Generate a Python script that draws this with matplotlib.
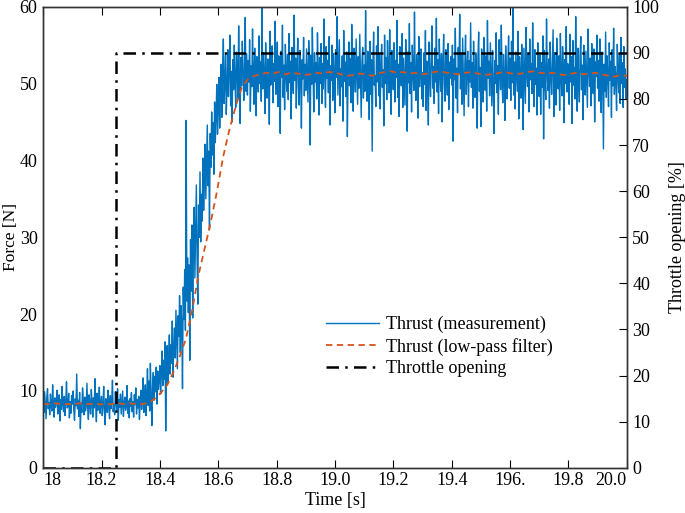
import matplotlib.pyplot as plt
import numpy as np

plt.rcParams['font.family'] = ['Liberation Serif', 'DejaVu Serif']
plt.rcParams['font.size'] = 13

# thrust measurement [N], 2.5 ms sampling from 18.0 s to 20.0 s
thrust_meas = [
    8.6, 7.2, 9.9, 8.1, 6.4, 9.2, 10.3, 7.7, 8.5, 6.9, 9.6, 8.0, 7.4, 10.8, 8.3, 6.6, 9.1, 7.9, 8.8, 10.1,
    7.0, 8.4, 9.5, 6.1, 8.9, 7.6, 10.6, 8.2, 7.3, 9.3, 6.8, 8.7, 11.2, 7.8, 8.0, 9.7, 6.5, 8.6, 7.1, 9.4,
    8.3, 10.0, 7.5, 6.2, 9.0, 8.1, 12.2, 7.7, 8.8, 6.7, 9.8, 5.1, 8.5, 7.2, 10.4, 8.9, 6.9, 9.2, 7.4, 8.0,
    11.0, 7.9, 6.3, 9.5, 8.4, 7.0, 10.2, 8.6, 6.6, 9.1, 7.8, 11.6, 8.2, 6.0, 9.7, 7.5, 8.7, 10.5, 7.1, 8.3,
    9.3, 6.8, 8.1, 10.6, 7.4, 5.6, 9.0, 8.5, 7.2, 10.1, 8.0, 6.4, 9.4, 7.7, 8.8, 11.4, 7.3, 8.2, 6.9, 9.9,
    8.4, 7.6, 10.3, 6.2, 8.9, 7.9, 9.6, 7.0, 8.6, 10.0, 6.7, 8.3, 9.2, 7.5, 8.1, 10.7, 7.1, 8.7, 6.5, 9.0,
    8.0, 9.8, 7.3, 8.6, 6.6, 9.5, 8.2, 10.4, 7.0, 8.9, 7.8, 9.3, 6.3, 8.5, 10.1, 7.6, 9.0, 11.7, 7.2, 8.4,
    10.8, 6.8, 9.6, 12.9, 8.1, 11.3, 7.4, 13.6, 9.2, 5.5, 10.7, 12.4, 8.8, 11.9, 9.9, 13.1, 8.3, 12.6, 10.2, 11.4,
    13.3, 9.6, 12.1, 15.2, 10.7, 14.0, 11.5, 16.4, 4.8, 12.8, 15.9, 11.0, 14.7, 17.3, 12.2, 16.0, 13.6, 19.1, 11.8, 15.4,
    18.2, 14.3, 20.5, 16.7, 12.9, 19.8, 17.1, 22.4, 15.0, 21.1, 18.6, 10.3, 23.5, 19.3, 25.8, 17.9, 45.2, 21.7, 27.3, 20.2,
    26.4, 14.0, 29.7, 23.0, 31.6, 19.5, 28.2, 33.9, 24.7, 30.5, 36.8, 27.1, 21.3, 34.2, 30.0, 38.5, 29.4, 35.6, 32.1, 40.3,
    33.5, 37.4, 42.1, 35.0, 39.8, 44.6, 36.7, 41.2, 31.0, 43.5, 39.1, 46.3, 40.7, 44.9, 38.2, 47.6, 42.3, 45.8, 49.9, 43.4,
    46.7, 50.8, 44.2, 48.9, 52.5, 45.6, 51.3, 55.8, 47.4, 50.1, 53.7, 46.0, 49.5, 54.4, 48.3, 52.0, 56.3, 47.1, 51.6, 45.0,
    53.1, 49.2, 55.0, 50.4, 46.9, 54.1, 51.8, 48.0, 57.5, 50.6, 44.8, 53.4, 49.7, 55.5, 52.2, 47.8, 51.1, 58.6, 49.0, 53.9,
    48.5, 53.0, 50.2, 55.7, 46.4, 52.3, 49.6, 57.1, 51.0, 47.3, 54.6, 50.7, 45.8, 53.5, 51.9, 48.9, 56.2, 50.0, 52.8, 47.7,
    60.0, 49.3, 54.0, 51.4, 46.1, 55.3, 50.5, 48.1, 53.2, 52.0, 44.7, 56.8, 49.8, 51.7, 54.9, 47.5, 52.6, 50.3, 58.1, 48.6,
    51.2, 55.4, 47.0, 53.6, 49.4, 43.5, 54.2, 50.8, 57.6, 48.2, 52.4, 46.6, 55.1, 51.5, 49.0, 53.8, 47.9, 56.5, 50.1, 52.9,
    45.4, 54.7, 51.0, 48.7, 58.9, 50.4, 53.3, 46.8, 52.1, 55.9, 49.5, 47.2, 54.3, 51.6, 44.2, 53.1, 50.6, 56.0, 48.4, 52.5,
    49.1, 54.5, 50.9, 47.6, 55.6, 52.2, 42.0, 53.7, 49.9, 57.3, 51.3, 46.3, 54.0, 50.2, 52.7, 48.0, 56.6, 51.8, 45.9, 53.4,
    50.0, 55.2, 47.4, 52.6, 49.3, 58.4, 51.1, 46.9, 54.8, 50.7, 53.0, 48.8, 56.1, 44.6, 52.3, 50.4, 55.0, 47.8, 53.9, 51.4,
    46.2, 54.4, 50.8, 58.7, 48.5, 52.1, 55.7, 47.1, 51.9, 49.6, 53.6, 45.1, 56.9, 50.3, 52.8, 48.3, 54.1, 43.1, 51.5, 55.4,
    49.7, 53.2, 47.5, 57.7, 50.9, 46.4, 54.6, 52.0, 48.9, 55.8, 51.2, 47.3, 53.5, 49.4, 56.4, 50.6, 45.6, 52.9, 54.7, 48.1,
    52.4, 49.0, 59.5, 50.5, 47.7, 54.2, 51.7, 45.3, 55.5, 48.6, 53.1, 41.2, 52.6, 56.7, 49.8, 51.0, 47.0, 54.9, 50.2, 57.4,
    48.4, 53.7, 46.7, 52.2, 55.1, 49.5, 51.8, 44.5, 56.3, 50.0, 53.4, 47.9, 55.6, 51.3, 48.8, 57.0, 50.7, 46.0, 54.3, 52.0,
    49.2, 55.3, 47.6, 53.0, 50.8, 58.2, 48.2, 52.5, 45.7, 54.8, 51.1, 49.7, 56.5, 46.9, 53.3, 50.4, 47.2, 55.7, 52.1, 43.8,
    54.1, 50.1, 57.8, 48.7, 52.7, 46.3, 55.0, 51.6, 49.1, 59.3, 50.3, 47.8, 53.8, 51.9, 45.5, 56.1, 49.6, 52.4, 54.5, 48.0,
    51.4, 47.0, 54.0, 49.9, 56.9, 46.5, 52.9, 50.6, 44.6, 55.4, 51.0, 48.3, 53.6, 57.5, 49.4, 52.2, 47.4, 54.6, 50.2, 58.5,
    48.9, 53.1, 46.1, 55.8, 51.7, 49.0, 53.9, 45.0, 52.6, 56.4, 50.0, 47.7, 54.4, 51.2, 48.5, 55.2, 46.6, 52.8, 50.7, 53.5,
    49.8, 55.0, 42.5, 53.2, 50.5, 57.2, 48.1, 52.0, 46.2, 54.7, 51.3, 59.0, 49.3, 53.7, 47.3, 55.9, 50.9, 45.8, 52.4, 56.3,
    48.6, 51.8, 54.2, 47.0, 53.0, 50.2, 57.9, 49.5, 52.7, 46.8, 55.5, 51.0, 48.2, 54.0, 50.6, 44.2, 53.4, 56.7, 49.0, 52.1,
    44.4, 54.5, 50.3, 47.6, 56.0, 51.5, 49.1, 53.6, 46.4, 58.2, 50.7, 52.9, 48.4, 55.3, 51.1, 47.1, 54.3, 49.7, 43.5, 53.0,
    50.0, 56.6, 48.8, 52.3, 46.0, 55.7, 51.8, 49.2, 57.6, 50.4, 47.5, 53.8, 51.2, 45.2, 54.9, 50.8, 48.0, 52.5, 56.2, 49.4,
    53.3, 47.8, 55.5, 50.1, 59.8, 48.5, 52.8, 46.7, 54.1, 51.6, 49.0, 56.8, 45.4, 53.5, 50.4, 48.1, 55.1, 52.2, 44.0, 54.6,
    50.9, 47.4, 57.3, 51.3, 49.6, 53.9, 46.3, 55.8, 50.5, 52.6, 48.7, 57.9, 51.0, 47.0, 54.4, 49.9, 52.0, 45.9, 55.3, 50.2,
    48.3, 53.7, 46.0, 52.7, 49.5, 56.2, 42.8, 54.3, 50.6, 47.9, 58.4, 51.4, 49.1, 53.2, 46.8, 55.4, 51.1, 48.6, 52.9, 57.0,
    45.7, 54.0, 50.3, 47.2, 55.9, 51.7, 49.3, 53.6, 46.5, 56.5, 50.8, 48.4, 54.8, 52.3, 44.9, 53.1, 50.0, 57.4, 48.9, 52.6,
    51.5, 47.3, 56.4, 50.2, 53.5, 44.8, 55.6, 49.8, 52.1, 48.0, 58.7, 51.2, 46.4, 54.6, 50.5, 47.6, 53.8, 56.1, 49.2, 52.4,
    45.3, 55.0, 51.0, 48.5, 54.2, 50.7, 46.9, 57.1, 52.0, 49.6, 53.3, 47.1, 55.2, 50.3, 48.7, 54.5, 45.0, 52.8, 50.9, 56.3,
    49.4, 53.0, 47.7, 55.8, 50.1, 46.2, 54.1, 51.8, 41.5, 52.5, 49.0, 56.7, 48.2, 53.6, 51.1, 47.0, 55.3, 50.4, 52.9, 45.6,
    54.4, 49.7, 57.2, 48.6, 52.2, 50.6, 46.5, 55.1, 51.4, 48.8, 53.9, 47.4, 56.0, 50.0, 52.7, 46.9, 54.8, 49.5, 51.9, 48.0,
    50.5,
]

# low-pass filtered thrust [N], 20 ms steps from 18.0 s to 20.0 s
thrust_filt = [
    8.3, 8.3, 8.4, 8.3, 8.3, 8.3, 8.4, 8.3, 8.3, 8.3, 8.2, 8.3, 8.4, 8.3, 8.4, 8.3, 8.3,
    8.5, 9.0, 9.8, 10.8, 12.5, 14.5, 16.8, 20.5, 25.0, 28.5, 32.0, 36.0, 40.5, 44.0, 47.0, 49.5, 50.6, 51.0, 51.2,
    51.4, 51.3, 51.5, 51.2, 51.4, 51.3, 51.1, 51.2, 51.4, 51.3, 51.5, 51.4, 51.2, 51.0, 51.1, 51.3, 51.2, 51.0,
    51.3, 51.5, 51.6, 51.4, 51.5, 51.3, 51.4, 51.2, 51.3, 51.5, 51.6, 51.4, 51.3, 51.2, 51.4, 51.5, 51.3, 51.1,
    51.2, 51.3, 51.5, 51.4, 51.2, 51.3, 51.5, 51.6, 51.4, 51.3, 51.4, 51.2, 51.1, 51.3, 51.4, 51.2, 51.3, 51.4,
    51.2, 51.0, 50.9, 51.1, 51.0,
]

# throttle command [%]
throttle_t = [18.0, 18.25, 18.25, 20.0]
throttle_pct = [0, 0, 90, 90]

xtick_vals = [18.0, 18.2, 18.4, 18.6, 18.8, 19.0, 19.2, 19.4, 19.6, 19.8, 20.0]
xtick_labels = ['18', '18.2', '18.4', '18.6', '18.8', '19.0', '19.2', '19.4', '196.', '19.8', '20.0']

t_meas = np.linspace(18.0, 20.0, len(thrust_meas))
t_filt = np.linspace(18.0, 20.0, len(thrust_filt))

fig = plt.figure(figsize=(6.85, 5.13), dpi=100)
ax = fig.add_axes([0.063, 0.088, 0.852, 0.899])
ax2 = ax.twinx()

l1, = ax.plot(t_meas, thrust_meas, color='#0072BD', lw=1.0, label='Thrust (measurement)')
l2, = ax.plot(t_filt, thrust_filt, color='#D95319', lw=1.3, ls=(0, (3.5, 2.5)),
              label='Thrust (low-pass filter)')
l3, = ax2.plot(throttle_t, throttle_pct, color='black', lw=1.8, ls=(0, (5, 2.5, 1, 2.5)),
               label='Throttle opening')

ax.set_xlim(18, 20)
ax.set_ylim(0, 60)
ax2.set_ylim(0, 100)
ax.set_xticks(xtick_vals)
ax.set_xticklabels(xtick_labels)
ax.set_yticks(range(0, 61, 10))
ax2.set_yticks(range(0, 101, 10))

xl = ax.get_xticklabels()
xl[0].set_ha('left')
xl[-1].set_ha('right')

ax.tick_params(axis='x', direction='in', top=True, length=6, width=0.8, pad=3)
ax.tick_params(axis='y', length=0, pad=4)
ax2.tick_params(axis='y', direction='in', length=6, width=0.8, pad=4)

for a in (ax, ax2):
    for s in a.spines.values():
        s.set_color('#333333')
        s.set_linewidth(1.0)

ax.set_xlabel('Time [s]', labelpad=2)
ax.set_ylabel('Force [N]', fontsize=12.5)
ax.yaxis.set_label_coords(-0.041, 0.5)
ax2.set_ylabel('Throttle opening [%]', labelpad=7)

ax.legend(handles=[l1, l2, l3], loc='center', bbox_to_anchor=(0.679, 0.263),
          frameon=False, handlelength=2.9, handletextpad=0.4, labelspacing=0.25)

fig.savefig('out.png', dpi=100)
